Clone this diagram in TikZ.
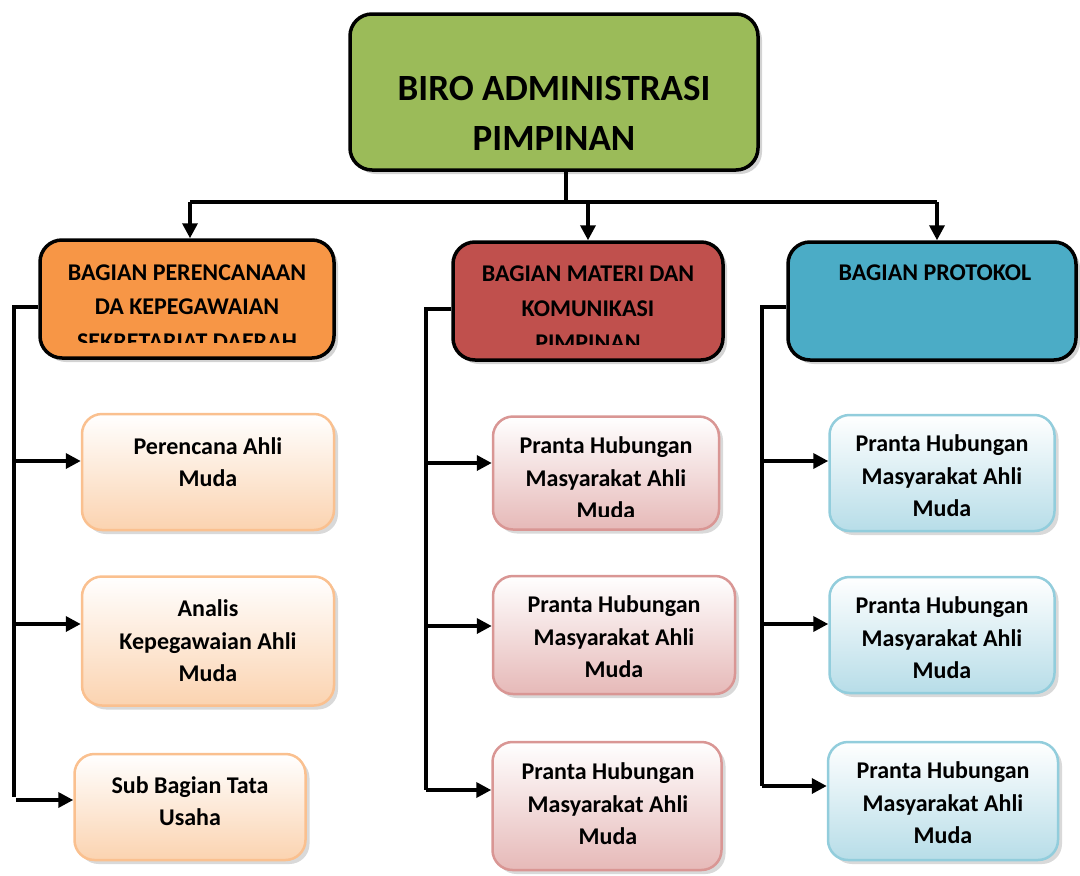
\documentclass[tikz,border=0pt]{standalone}
\usepackage{fontspec}
\setmainfont{Carlito}
\usetikzlibrary{arrows.meta,shadows}

\definecolor{biroGreen}{HTML}{9BBB59}
\definecolor{planOrange}{HTML}{F79646}
\definecolor{matRed}{HTML}{C0504D}
\definecolor{protBlue}{HTML}{4BACC6}
\definecolor{orangeLine}{HTML}{FAC08F}
\definecolor{orangeFill}{HTML}{FBD3B0}
\definecolor{redLine}{HTML}{D99694}
\definecolor{redFill}{HTML}{E6B9B8}
\definecolor{blueLine}{HTML}{92CDDC}
\definecolor{blueFill}{HTML}{B7DDE8}

\begin{document}
\begin{tikzpicture}[x=1pt,y=-1pt,
    headbox/.style={draw=black, line width=3.5pt, rounded corners=22pt,
      drop shadow={shadow xshift=4pt, shadow yshift=-4pt, opacity=0.35}},
    subbox/.style={line width=2.5pt, rounded corners=20pt, shading=axis, top color=white,
      drop shadow={shadow xshift=4pt, shadow yshift=-4pt, opacity=0.3}},
    headtext/.style={font=\fontsize{24}{34.5}\selectfont\bfseries, align=center, inner sep=0pt},
    subtext/.style={font=\fontsize{24}{32.5}\selectfont\bfseries, align=center, inner sep=0pt},
    link/.style={line width=3.5pt},
    arr/.style={line width=3.5pt, -{Triangle[length=15pt,width=15pt]}}]
  \useasboundingbox (0,0) rectangle (1080,876);

  % top box
  \node[headbox, fill=biroGreen, minimum width=408, minimum height=156] (biro) at (554,92) {};
  \node[font=\fontsize{37}{50}\selectfont\bfseries, align=center, inner sep=0pt] (biroT) at (554,113)
    {BIRO ADMINISTRASI\\PIMPINAN};

  % three bagian
  \node[headbox, fill=planOrange, minimum width=294, minimum height=118] (plan) at (187,299) {};
  \node[headbox, fill=matRed, minimum width=270, minimum height=118] (mat) at (588,301) {};
  \node[headbox, fill=protBlue, minimum width=288, minimum height=118] (prot) at (932,301) {};
  \begin{scope}
    \clip (38,238) rectangle (336,342);
    \node[headtext] (planT) at (187,307) {BAGIAN PERENCANAAN\\DA KEPEGAWAIAN\\SEKRETARIAT DAERAH};
  \end{scope}
  \begin{scope}
    \clip (451,240) rectangle (725,344);
    \node[headtext] (matT) at (588,308.5) {BAGIAN MATERI DAN\\KOMUNIKASI\\PIMPINAN};
  \end{scope}
  \node[headtext] (protT) at (935,273) {BAGIAN PROTOKOL};

  % sub boxes, left
  \node[subbox, draw=orangeLine, bottom color=orangeFill, minimum width=252, minimum height=116] (perAhli) at (208,472) {};
  \node[subtext] (perAhliT) at (208,462) {Perencana Ahli\\Muda};
  \node[subbox, draw=orangeLine, bottom color=orangeFill, minimum width=252, minimum height=129] (analis) at (208,641) {};
  \node[subtext] (analisT) at (208,641) {Analis\\Kepegawaian Ahli\\Muda};
  \node[subbox, draw=orangeLine, bottom color=orangeFill, minimum width=231, minimum height=106] (tata) at (190,807) {};
  \node[subtext] (tataT) at (190,801) {Sub Bagian Tata\\Usaha};

  % sub boxes, middle
  \node[subbox, draw=redLine, bottom color=redFill, minimum width=226, minimum height=113] (humasA) at (606,473) {};
  \begin{scope}
    \clip (491,415) rectangle (721,516);
    \node[subtext] (humasAT) at (606,478) {Pranta Hubungan\\Masyarakat Ahli\\Muda};
  \end{scope}
  \node[subbox, draw=redLine, bottom color=redFill, minimum width=242, minimum height=118] (humasB) at (614,635) {};
  \node[subtext] (humasBT) at (614,637) {Pranta Hubungan\\Masyarakat Ahli\\Muda};
  \node[subbox, draw=redLine, bottom color=redFill, minimum width=229, minimum height=128] (humasC) at (607,806) {};
  \node[subtext] (humasCT) at (608,804) {Pranta Hubungan\\Masyarakat Ahli\\Muda};

  % sub boxes, right
  \node[subbox, draw=blueLine, bottom color=blueFill, minimum width=225, minimum height=116] (protA) at (942,473) {};
  \node[subtext] (protAT) at (942,476) {Pranta Hubungan\\Masyarakat Ahli\\Muda};
  \node[subbox, draw=blueLine, bottom color=blueFill, minimum width=225, minimum height=116] (protB) at (942,635) {};
  \node[subtext] (protBT) at (942,638) {Pranta Hubungan\\Masyarakat Ahli\\Muda};
  \node[subbox, draw=blueLine, bottom color=blueFill, minimum width=230, minimum height=118] (protC) at (943,801) {};
  \node[subtext] (protCT) at (943,803) {Pranta Hubungan\\Masyarakat Ahli\\Muda};

  % top connectors
  \coordinate (hub) at (566,202);
  \coordinate (dropL) at (190,202);
  \coordinate (dropM) at (588,202);
  \coordinate (dropR) at (937,202);
  \draw[link] (biro.south -| hub) -- (hub);
  \draw[link] (dropL) -- (dropR);
  \draw[arr] (dropL) -- (dropL |- plan.north);
  \draw[arr] (dropM) -- (dropM |- mat.north);
  \draw[arr] (dropR) -- (dropR |- prot.north);

  % left column
  \coordinate (spineL) at (14,307);
  \draw[link] (plan.west |- spineL) -- (spineL) -- (14,797);
  \draw[arr] (14,461) -- ([yshift=11pt]perAhli.west);
  \draw[arr] (14,624) -- ([yshift=17pt]analis.west);
  \draw[arr] (16,800) -- ([yshift=7pt]tata.west);

  % middle column
  \coordinate (spineM) at (426,309);
  \draw[link] (mat.west |- spineM) -- (spineM) -- (426,790);
  \draw[arr] (426,463) -- ([yshift=10pt]humasA.west);
  \draw[arr] (426,626) -- ([yshift=9pt]humasB.west);
  \draw[arr] (426,790) -- ([yshift=16pt]humasC.west);

  % right column
  \coordinate (spineR) at (762,307);
  \draw[link] (prot.west |- spineR) -- (spineR) -- (762,786);
  \draw[arr] (762,461) -- ([yshift=12pt]protA.west);
  \draw[arr] (762,624) -- ([yshift=11pt]protB.west);
  \draw[arr] (762,786) -- ([yshift=15pt]protC.west);
\end{tikzpicture}
\end{document}
